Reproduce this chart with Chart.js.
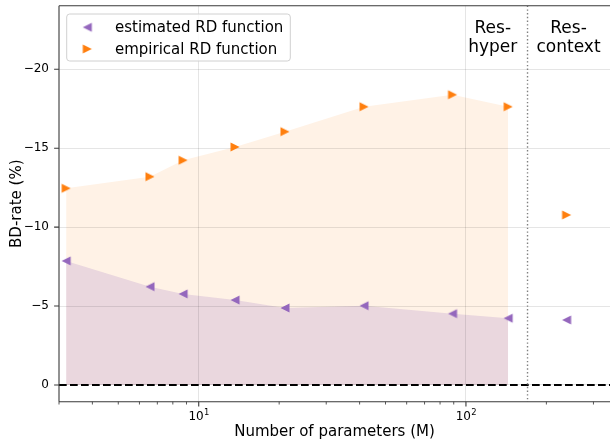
<!DOCTYPE html>
<html>
<head>
<meta charset="utf-8">
<script src="https://cdn.jsdelivr.net/npm/chart.js@4/dist/chart.umd.min.js"></script>
<style>
  html, body { margin: 0; padding: 0; background: #fff; }
  #wrap { width: 610px; height: 441px; position: relative; }
</style>
</head>
<body>
<div id="wrap"><canvas id="chart" width="610" height="441"></canvas></div>
<script>
// Model size (millions of parameters) and BD-rate (%) per model
const paramsM      = [3.19, 6.57, 8.74, 13.67, 21.03, 41.55, 89.1, 143.9, 238];
const estimatedRD  = [-7.86, -6.23, -5.77, -5.38, -4.88, -5.02, -4.52, -4.23, -4.12];
const empiricalRD  = [-12.46, -13.20, -14.24, -15.08, -16.05, -17.63, -18.39, -17.63, -10.77];
const hyperCount   = 8;            // first models belong to the Res-hyper family (shaded)
const familySplit  = 170;          // boundary between the two model families
const seriesLabels = ['estimated RD function', 'empirical RD function'];
const regionNames  = [['Res-', 'hyper'], ['Res-', 'context']];
const regionX      = [126, 242];
const regionY      = -22.3;
const yTicks       = [-20, -15, -10, -5, 0];
const xMajorTicks  = [10, 100];
const xMinorTicks  = [3, 4, 5, 6, 7, 8, 9, 20, 30, 40, 50, 60, 70, 80, 90, 200, 300];
const xRange       = [3, 346];
const yRange       = [-24.03, 1.06];

const PURPLE = '#9467bd';
const ORANGE = '#ff7f0e';
const FONT = '"DejaVu Sans", sans-serif';

// Triangle markers in the style of matplotlib '<' and '>'
function triangleMarker(color, dir) {
  const c = document.createElement('canvas');
  c.width = 12; c.height = 12;
  const g = c.getContext('2d');
  const h = 4.5;
  g.fillStyle = color;
  g.beginPath();
  if (dir > 0) {
    g.moveTo(6 + h, 6); g.lineTo(6 - h, 6 - h); g.lineTo(6 - h, 6 + h);
  } else {
    g.moveTo(6 - h, 6); g.lineTo(6 + h, 6 - h); g.lineTo(6 + h, 6 + h);
  }
  g.closePath();
  g.fill();
  return c;
}
const leftTri = triangleMarker(PURPLE, -1);
const rightTri = triangleMarker(ORANGE, 1);

const pts = ys => paramsM.map((x, i) => ({ x, y: ys[i] }));
const hyperPts = ys => pts(ys).slice(0, hyperCount);

function noScalePadding(s) {
  s.paddingTop = 0; s.paddingBottom = 0; s.paddingLeft = 0; s.paddingRight = 0;
}

const decorations = {
  id: 'decorations',
  afterDatasetsDraw(chart) {
    const { ctx, chartArea: a, scales: { x, y } } = chart;
    ctx.save();

    // reference line at zero BD-rate
    ctx.beginPath();
    ctx.rect(a.left, a.top, a.right - a.left, a.bottom - a.top);
    ctx.clip();
    const y0 = y.getPixelForValue(0);
    ctx.strokeStyle = '#000';
    ctx.lineWidth = 2;
    ctx.setLineDash([7.7, 3.3]);
    ctx.beginPath(); ctx.moveTo(a.left, y0); ctx.lineTo(a.right, y0); ctx.stroke();

    // family separator
    const xs = x.getPixelForValue(familySplit);
    ctx.strokeStyle = '#808080';
    ctx.lineWidth = 1.4;
    ctx.setLineDash([1.4, 2.3]);
    ctx.beginPath(); ctx.moveTo(xs, a.top); ctx.lineTo(xs, a.bottom); ctx.stroke();
    ctx.setLineDash([]);
    ctx.restore();
  },
  afterDraw(chart) {
    const { ctx, chartArea: a, scales: { x, y } } = chart;
    ctx.save();

    // family names
    ctx.fillStyle = '#000';
    ctx.font = '17px ' + FONT;
    ctx.textAlign = 'center';
    ctx.textBaseline = 'alphabetic';
    regionNames.forEach((lines, i) => {
      const px = x.getPixelForValue(regionX[i]);
      const py = y.getPixelForValue(regionY);
      lines.forEach((t, j) => ctx.fillText(t, px, py + j * 19.4));
    });

    // spines
    ctx.strokeStyle = '#3a3a3a';
    ctx.lineWidth = 1.1;
    ctx.beginPath();
    ctx.moveTo(a.left, a.top); ctx.lineTo(a.right, a.top);
    ctx.moveTo(a.left, a.top); ctx.lineTo(a.left, a.bottom);
    ctx.moveTo(a.left, a.bottom); ctx.lineTo(a.right, a.bottom);
    ctx.stroke();

    // tick marks
    ctx.beginPath();
    xMajorTicks.forEach(v => {
      const px = x.getPixelForValue(v);
      ctx.moveTo(px, a.bottom); ctx.lineTo(px, a.bottom + 4.9);
    });
    yTicks.forEach(v => {
      const py = y.getPixelForValue(v);
      ctx.moveTo(a.left, py); ctx.lineTo(a.left - 4.9, py);
    });
    ctx.stroke();
    ctx.lineWidth = 0.85;
    ctx.beginPath();
    xMinorTicks.forEach(v => {
      if (v < xRange[0] || v > xRange[1]) return;
      const px = x.getPixelForValue(v);
      ctx.moveTo(px, a.bottom); ctx.lineTo(px, a.bottom + 2.8);
    });
    ctx.stroke();

    // decade labels 10^n on the x axis
    ctx.fillStyle = '#000';
    ctx.textBaseline = 'alphabetic';
    x.ticks.forEach(t => {
      const px = x.getPixelForValue(t.value);
      const exp = String(Math.round(Math.log10(t.value)));
      ctx.font = '12px ' + FONT;
      const wb = ctx.measureText('10').width;
      ctx.font = '8.4px ' + FONT;
      const we = ctx.measureText(exp).width;
      const left = px - (wb + we) / 2;
      ctx.textAlign = 'left';
      ctx.font = '12px ' + FONT;
      ctx.fillText('10', left, a.bottom + 18.3);
      ctx.font = '8.4px ' + FONT;
      ctx.fillText(exp, left + wb + 0.3, a.bottom + 13.2);
    });

    // axis titles
    ctx.font = '15px ' + FONT;
    ctx.textAlign = 'center';
    ctx.textBaseline = 'alphabetic';
    ctx.fillText('Number of parameters (M)', (a.left + a.right) / 2, 436.4);
    ctx.save();
    ctx.translate(20.8, (a.top + a.bottom) / 2);
    ctx.rotate(-Math.PI / 2);
    ctx.fillText('BD-rate (%)', 0, 0);
    ctx.restore();

    // legend
    const lx = a.left + 7.7, ly = 14;
    ctx.font = '15px ' + FONT;
    const tw = Math.max(...seriesLabels.map(s => ctx.measureText(s).width));
    const textX = lx + 48.3;
    const bw = textX + tw + 7 - lx, bh = 47;
    ctx.fillStyle = 'rgba(255,255,255,0.8)';
    ctx.strokeStyle = '#d0d0d0';
    ctx.lineWidth = 1;
    ctx.beginPath();
    ctx.roundRect(lx, ly, bw, bh, 3);
    ctx.fill(); ctx.stroke();
    const markers = [leftTri, rightTri];
    const rowsY = [27.3, 49];
    ctx.fillStyle = '#000';
    ctx.textAlign = 'left';
    seriesLabels.forEach((s, i) => {
      const m = markers[i];
      ctx.drawImage(m, lx + 20.6 - m.width / 2, rowsY[i] - m.height / 2);
      ctx.fillText(s, textX, rowsY[i] + 4.9);
    });
    ctx.restore();
  }
};

new Chart(document.getElementById('chart'), {
  type: 'line',
  data: {
    datasets: [
      { label: seriesLabels[0], data: pts(estimatedRD), showLine: false,
        pointStyle: leftTri, pointRadius: 5, order: 0 },
      { label: seriesLabels[1], data: pts(empiricalRD), showLine: false,
        pointStyle: rightTri, pointRadius: 5, order: 0 },
      { label: 'estimated-area', data: hyperPts(estimatedRD), pointRadius: 0,
        borderWidth: 0, borderColor: 'rgba(0,0,0,0)', tension: 0,
        fill: 'origin', backgroundColor: 'rgba(148,103,189,0.2)', order: 1 },
      { label: 'empirical-area', data: hyperPts(empiricalRD), pointRadius: 0,
        borderWidth: 0, borderColor: 'rgba(0,0,0,0)', tension: 0,
        fill: 'origin', backgroundColor: 'rgba(255,127,14,0.1)', order: 2 }
    ]
  },
  options: {
    responsive: false,
    animation: false,
    events: [],
    layout: { autoPadding: false, padding: { top: 5.7, left: 0, right: 0, bottom: 0 } },
    plugins: {
      legend: { display: false },
      tooltip: { enabled: false },
      filler: { drawTime: 'beforeDraw' }
    },
    scales: {
      x: {
        type: 'logarithmic',
        min: xRange[0], max: xRange[1],
        afterBuildTicks: s => { s.ticks = xMajorTicks.map(v => ({ value: v, major: true })); },
        afterFit: s => { s.height = 441 - 401.7; noScalePadding(s); },
        border: { display: false },
        grid: { color: 'rgba(0,0,0,0.1)', lineWidth: 1, drawTicks: false },
        ticks: { display: false, autoSkip: false, maxRotation: 0 }
      },
      y: {
        type: 'linear',
        reverse: true,
        min: yRange[0], max: yRange[1],
        afterBuildTicks: s => { s.ticks = yTicks.map(v => ({ value: v })); },
        afterFit: s => { s.width = 59; noScalePadding(s); },
        border: { display: false },
        grid: { color: 'rgba(0,0,0,0.1)', lineWidth: 1, drawTicks: false },
        ticks: {
          padding: 10, color: '#000',
          font: { family: FONT, size: 12 },
          callback: v => (v === 0 ? '0' : '\u2212' + Math.abs(v))
        }
      }
    }
  },
  plugins: [decorations]
});
</script>
</body>
</html>
